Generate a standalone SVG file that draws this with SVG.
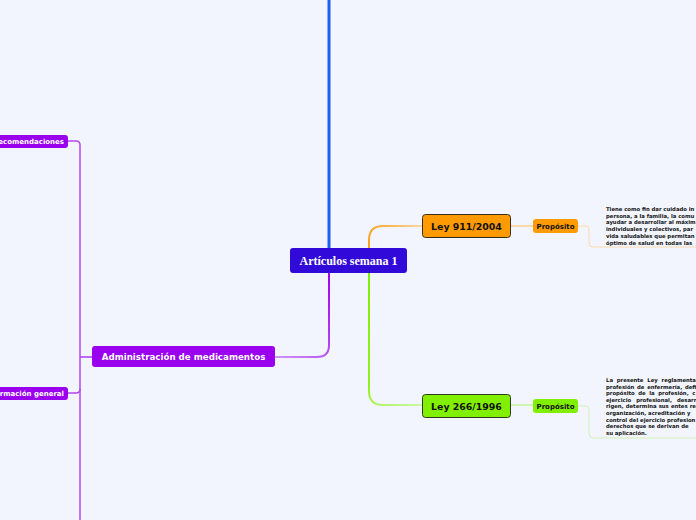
<svg xmlns="http://www.w3.org/2000/svg" width="696" height="520" viewBox="0 0 696 520">
<defs>
<style>
.node{font-family:"DejaVu Sans",Verdana,sans-serif;font-weight:bold;}
.para{font-family:"DejaVu Sans",Verdana,sans-serif;font-weight:bold;font-size:5.3px;fill:#111;}
.conn{fill:none;}
</style>
<linearGradient id="gOr" gradientUnits="userSpaceOnUse" x1="369" y1="248" x2="422" y2="226">
<stop offset="0" stop-color="#f7a11f"/><stop offset="0.45" stop-color="#f8b652"/><stop offset="1" stop-color="#fad6a6"/>
</linearGradient>
<linearGradient id="gGr" gradientUnits="userSpaceOnUse" x1="369" y1="273" x2="422" y2="405">
<stop offset="0" stop-color="#80ee00"/><stop offset="0.75" stop-color="#94f020"/><stop offset="1" stop-color="#cdf7a6"/>
</linearGradient>
<linearGradient id="gPu" gradientUnits="userSpaceOnUse" x1="329" y1="273" x2="275" y2="357">
<stop offset="0" stop-color="#a100f2"/><stop offset="0.6" stop-color="#b040f0"/><stop offset="1" stop-color="#cf95f5"/>
</linearGradient>
</defs>
<rect width="696" height="520" fill="#f3f5fe"/>
<g id="connectors">
<line x1="329" y1="0" x2="329" y2="248" stroke="#1f5ff0" stroke-width="3"/>
<path class="conn" d="M369,248 V240 Q369,226 383,226 H422" stroke="url(#gOr)" stroke-width="2"/>
<path class="conn" d="M369,273 V391 Q369,405 383,405 H422" stroke="url(#gGr)" stroke-width="2"/>
<path class="conn" d="M329,273 V345 Q329,357 317,357 H275" stroke="url(#gPu)" stroke-width="2"/>
<line x1="510" y1="226" x2="533" y2="226" stroke="#f9cd93" stroke-width="1.5"/>
<path class="conn" d="M578,226 H586 Q589,226 589,229 V243 Q589,247 593,247 H696" stroke="#f9d9ae" stroke-width="1"/>
<line x1="510" y1="405" x2="533" y2="405" stroke="#c4f39a" stroke-width="1.5"/>
<path class="conn" d="M578,406 H586 Q589,406 589,409 V434 Q589,438 593,438 H696" stroke="#d2efb8" stroke-width="1"/>
<line x1="80" y1="357" x2="92" y2="357" stroke="#a838f0" stroke-width="1.5"/>
<path class="conn" d="M68,141 H76 Q80,141 80,145 V520" stroke="#b447f1" stroke-width="1.5"/>
<path class="conn" d="M68,393 H76 Q80,393 80,389" stroke="#b447f1" stroke-width="1.5"/>
</g>
<g id="central">
<rect x="290" y="248" width="117" height="25" rx="3" fill="#3109d9"/>
<text x="348.5" y="265" text-anchor="middle" font-family="'Liberation Serif','Times New Roman',serif" font-weight="bold" font-size="12" fill="#fff">Artículos semana 1</text>
</g>
<g id="ley911">
<rect x="422.5" y="214.5" width="88" height="23" rx="3" fill="#ff9a00" stroke="#3a3020" stroke-width="1"/>
<text class="node" x="466.5" y="230" text-anchor="middle" font-size="9.4" fill="#111">Ley 911/2004</text>
</g>
<g id="proposito911">
<rect x="533" y="219" width="45" height="14" rx="3" fill="#ff9a00"/>
<text class="node" x="555.5" y="228.6" text-anchor="middle" font-size="7" fill="#111">Propósito</text>
</g>
<g id="texto911">
<text class="para" x="606" y="211">Tiene como fin dar cuidado in</text>
<text class="para" x="606" y="217.7">persona, a la familia, la comu</text>
<text class="para" x="606" y="224.4">ayudar a desarrollar al máxim</text>
<text class="para" x="606" y="231.1">individuales y colectivos, par</text>
<text class="para" x="606" y="237.8">vida saludables que permitan</text>
<text class="para" x="606" y="244.5">óptimo de salud en todas las</text>
</g>
<g id="ley266">
<rect x="422.5" y="394.5" width="88" height="23" rx="3" fill="#80f000" stroke="#2e3a20" stroke-width="1"/>
<text class="node" x="466.5" y="410" text-anchor="middle" font-size="9.4" fill="#111">Ley 266/1996</text>
</g>
<g id="proposito266">
<rect x="533" y="399" width="45" height="14" rx="3" fill="#80f000"/>
<text class="node" x="555.5" y="408.6" text-anchor="middle" font-size="7" fill="#111">Propósito</text>
</g>
<g id="texto266">
<text class="para" x="606" y="382" word-spacing="2">La presente Ley reglamenta</text>
<text class="para" x="606" y="388.6" word-spacing="0.9">profesión de enfermería, defi</text>
<text class="para" x="606" y="395.2" word-spacing="1.8">propósito de la profesión, c</text>
<text class="para" x="606" y="401.8" word-spacing="3.2">ejercicio profesional, desarr</text>
<text class="para" x="606" y="408.4" word-spacing="0.3">rigen, determina sus entes re</text>
<text class="para" x="606" y="415">organización, acreditación y</text>
<text class="para" x="606" y="421.6">control del ejercicio profesion</text>
<text class="para" x="606" y="428.2">derechos que se derivan de</text>
<text class="para" x="606" y="434.8">su aplicación.</text>
</g>
<g id="administracion">
<rect x="92" y="346" width="183" height="21" rx="3" fill="#9a00ee"/>
<text class="node" x="183.5" y="360.3" text-anchor="middle" font-size="8.7" fill="#fff">Administración de medicamentos</text>
</g>
<g id="recomendaciones">
<rect x="-30" y="135" width="98" height="13" rx="3" fill="#9a00ee"/>
<text class="node" x="64" y="144" text-anchor="end" font-size="7" fill="#fff">Recomendaciones</text>
</g>
<g id="informacion">
<rect x="-40" y="387" width="108" height="13" rx="3" fill="#9a00ee"/>
<text class="node" x="64" y="396" text-anchor="end" font-size="7" fill="#fff">Información general</text>
</g>
</svg>
